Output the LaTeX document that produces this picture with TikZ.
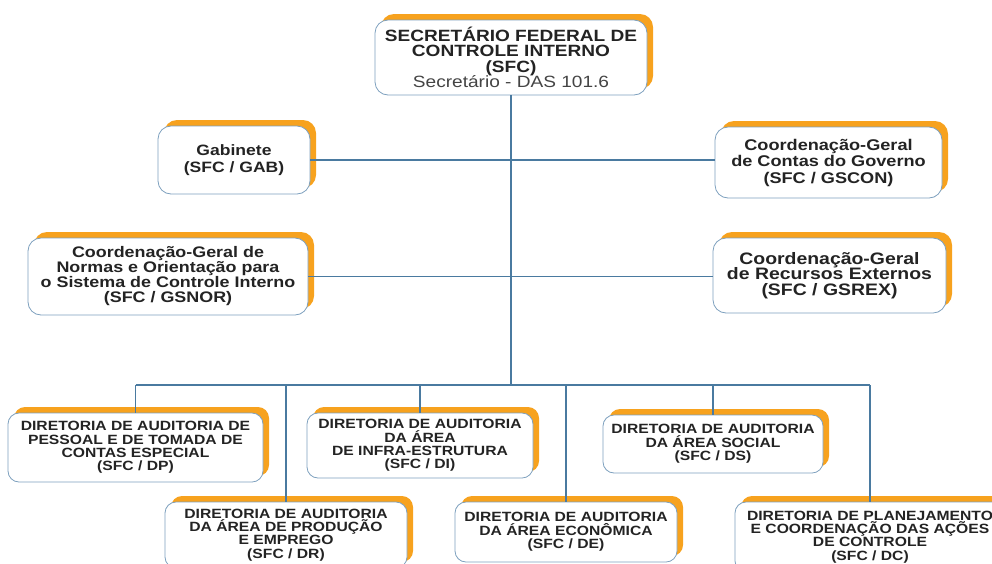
\documentclass[tikz,border=0pt]{standalone}
\usepackage{fontspec}
\setmainfont{Liberation Sans}[FakeStretch=1.17]
\usepackage{xcolor}
\usepackage{tikz}
\usetikzlibrary{shadows}

\definecolor{linha}{RGB}{74,122,160}
\definecolor{borda}{RGB}{125,160,190}
\definecolor{laranja}{RGB}{247,162,30}
\definecolor{texto}{RGB}{35,35,35}

\begin{document}
\begin{tikzpicture}[x=1pt,y=-1pt,
  caixa/.style={draw=borda,line width=0.8pt,fill=white,rounded corners=13pt,
    align=center,inner sep=0pt,text=texto,font=\bfseries,
    copy shadow={shadow xshift=6pt,shadow yshift=6pt,fill=laranja,draw=none}},
  diretoria/.style={caixa,rounded corners=11pt,
    font=\bfseries\fontsize{13.4}{13.3}\selectfont},
  conn/.style={draw=linha,line width=1.6pt}]
\clip (0,0) rectangle (992,563);
% Secretario
\node[caixa,minimum width=272pt,minimum height=75pt,
  font=\bfseries\fontsize{16.3}{15.5}\selectfont] (sfc) at (511,57.5)
  {SECRETÁRIO FEDERAL DE\\CONTROLE INTERNO\\(SFC)\\{\mdseries\color{texto!85}Secretário - DAS 101.6}};
% Assessoria
\node[caixa,minimum width=152pt,minimum height=68pt,
  font=\bfseries\fontsize{15}{17}\selectfont] (gab) at (234,160)
  {Gabinete\\(SFC / GAB)};
\node[caixa,minimum width=227pt,minimum height=71pt,
  font=\bfseries\fontsize{15.5}{16.5}\selectfont] (gscon) at (828.5,162.5)
  {Coordenação-Geral\\de Contas do Governo\\(SFC / GSCON)};
\node[caixa,minimum width=280pt,minimum height=77pt,
  font=\bfseries\fontsize{15.3}{15}\selectfont] (gsnor) at (168,276.5)
  {Coordenação-Geral de\\Normas e Orientação para\\o Sistema de Controle Interno\\(SFC / GSNOR)};
\node[caixa,minimum width=233pt,minimum height=75pt,
  font=\bfseries\fontsize{16.6}{15.5}\selectfont] (gsrex) at (829.5,275.5)
  {Coordenação-Geral\\de Recursos Externos\\(SFC / GSREX)};
% Diretorias
\node[diretoria,minimum width=255pt,minimum height=69pt] (dp) at (135.5,447.5)
  {DIRETORIA DE AUDITORIA DE\\PESSOAL E DE TOMADA DE\\CONTAS ESPECIAL\\(SFC / DP)};
\node[diretoria,minimum width=226pt,minimum height=65pt] (di) at (420,445.5)
  {DIRETORIA DE AUDITORIA\\DA ÁREA\\DE INFRA-ESTRUTURA\\(SFC / DI)};
\node[diretoria,minimum width=220pt,minimum height=58pt] (ds) at (713,444)
  {DIRETORIA DE AUDITORIA\\DA ÁREA SOCIAL\\(SFC / DS)};
\node[diretoria,minimum width=242pt,minimum height=66pt] (dr) at (286,535)
  {DIRETORIA DE AUDITORIA\\DA ÁREA DE PRODUÇÃO\\E EMPREGO\\(SFC / DR)};
\node[diretoria,minimum width=222pt,minimum height=60pt] (de) at (566,532)
  {DIRETORIA DE AUDITORIA\\DA ÁREA ECONÔMICA\\(SFC / DE)};
\node[diretoria,minimum width=270pt,minimum height=70pt] (dc) at (870,537)
  {DIRETORIA DE PLANEJAMENTO\\E COORDENAÇÃO DAS AÇÕES\\DE CONTROLE\\(SFC / DC)};
% Ligacoes
\coordinate (bus) at (511,385);
\draw[conn] (sfc.south) -- (sfc.south |- bus);
\draw[conn] (gab.east) -- (gab.east -| gscon.west);
\draw[conn] (gsnor.east) -- (gsnor.east -| gsrex.west);
\draw[conn] (dp.north |- bus) -- (dc.north |- bus);
\foreach \d in {dp,dr,di,de,ds,dc}{
  \draw[conn] (\d.north |- bus) -- (\d.north);
}
\end{tikzpicture}
\end{document}
